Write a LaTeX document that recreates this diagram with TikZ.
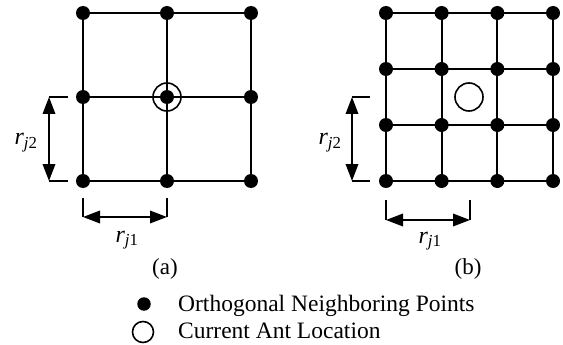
\documentclass[tikz,border=0pt]{standalone}
\usepackage{fontspec}
\setmainfont{Liberation Serif}
\usetikzlibrary{arrows.meta}
\tikzset{
  dot/.style={circle,fill=black,inner sep=0pt,minimum size=14pt},
  antloc/.style={circle,draw=black,line width=1.6pt,inner sep=0pt,minimum size=28pt},
  grid/.style={draw=black,line width=1.8pt},
  dim/.style={{Triangle[length=17pt,width=12.5pt]}-{Triangle[length=17pt,width=12.5pt]},line width=1.8pt},
  tick/.style={line width=1.8pt},
  lbl/.style={font=\fontsize{24}{28}\selectfont,inner sep=0pt},
  legtxt/.style={font=\fontsize{23.5}{28}\selectfont,inner sep=0pt,anchor=base west},
  captxt/.style={font=\fontsize{23}{27}\selectfont,inner sep=0pt},
}
\newcommand{\rlabel}[1]{\textit{r}\textsubscript{\textit{j}#1}}
\begin{document}
\begin{tikzpicture}[x=1pt,y=-1pt]
  \useasboundingbox (0,0) rectangle (563,345);
  % (a) coarse grid
  \foreach \i in {0,1,2}
    \foreach \j in {0,1,2}
      \node[dot] (a-\i-\j) at ({83+84*\i},{13+84*\j}) {};
  \foreach \i in {0,1,2} {
    \draw[grid] (a-\i-0.center) -- (a-\i-2.center);
    \draw[grid] (a-0-\i.center) -- (a-2-\i.center);
  }
  \node[antloc] (ant-a) at (a-1-1) {};
  % (b) fine grid
  \foreach \i in {0,...,3}
    \foreach \j in {0,...,3}
      \node[dot] (b-\i-\j) at ({386+55.67*\i},{13+56*\j}) {};
  \foreach \i in {0,...,3} {
    \draw[grid] (b-\i-0.center) -- (b-\i-3.center);
    \draw[grid] (b-0-\i.center) -- (b-3-\i.center);
  }
  \node[antloc] (ant-b) at (469,97) {};
  % dimensions (a)
  \coordinate (a-v1) at (49,97);  \coordinate (a-v2) at (49,181);
  \coordinate (a-h1) at (83,217); \coordinate (a-h2) at (167,217);
  \draw[tick] (a-v1) -- ++(19,0);  \draw[tick] (a-v2) -- ++(19,0);
  \draw[tick] (a-h1) -- ++(0,-19); \draw[tick] (a-h2) -- ++(0,-19);
  \draw[dim] (a-v1) -- (a-v2);
  \draw[dim] (a-h1) -- (a-h2);
  \node[lbl] (a-r2) at (26,143) {\rlabel{2}};
  \node[lbl] (a-r1) at (127,240) {\rlabel{1}};
  % dimensions (b)
  \coordinate (b-v1) at (352,97);  \coordinate (b-v2) at (352,181);
  \coordinate (b-h1) at (386,220); \coordinate (b-h2) at (470,220);
  \draw[tick] (b-v1) -- ++(18,0);  \draw[tick] (b-v2) -- ++(18,0);
  \draw[tick] (b-h1) -- ++(0,-20); \draw[tick] (b-h2) -- ++(0,-20);
  \draw[dim] (b-v1) -- (b-v2);
  \draw[dim] (b-h1) -- (b-h2);
  \node[lbl] (b-r2) at (330,143) {\rlabel{2}};
  \node[lbl] (b-r1) at (430,241) {\rlabel{1}};
  % captions
  \node[captxt] (cap-a) at (165,269) {(a)};
  \node[captxt] (cap-b) at (468,269) {(b)};
  % legend
  \node[dot,minimum size=13.5pt] (leg-dot) at (144,304) {};
  \node[antloc,minimum size=21pt] (leg-ant) at (143,332) {};
  \node[legtxt] (leg-dot-txt) at (178,311) {Orthogonal Neighboring Points};
  \node[legtxt] (leg-ant-txt) at (178,338) {Current Ant Location};
\end{tikzpicture}
\end{document}
